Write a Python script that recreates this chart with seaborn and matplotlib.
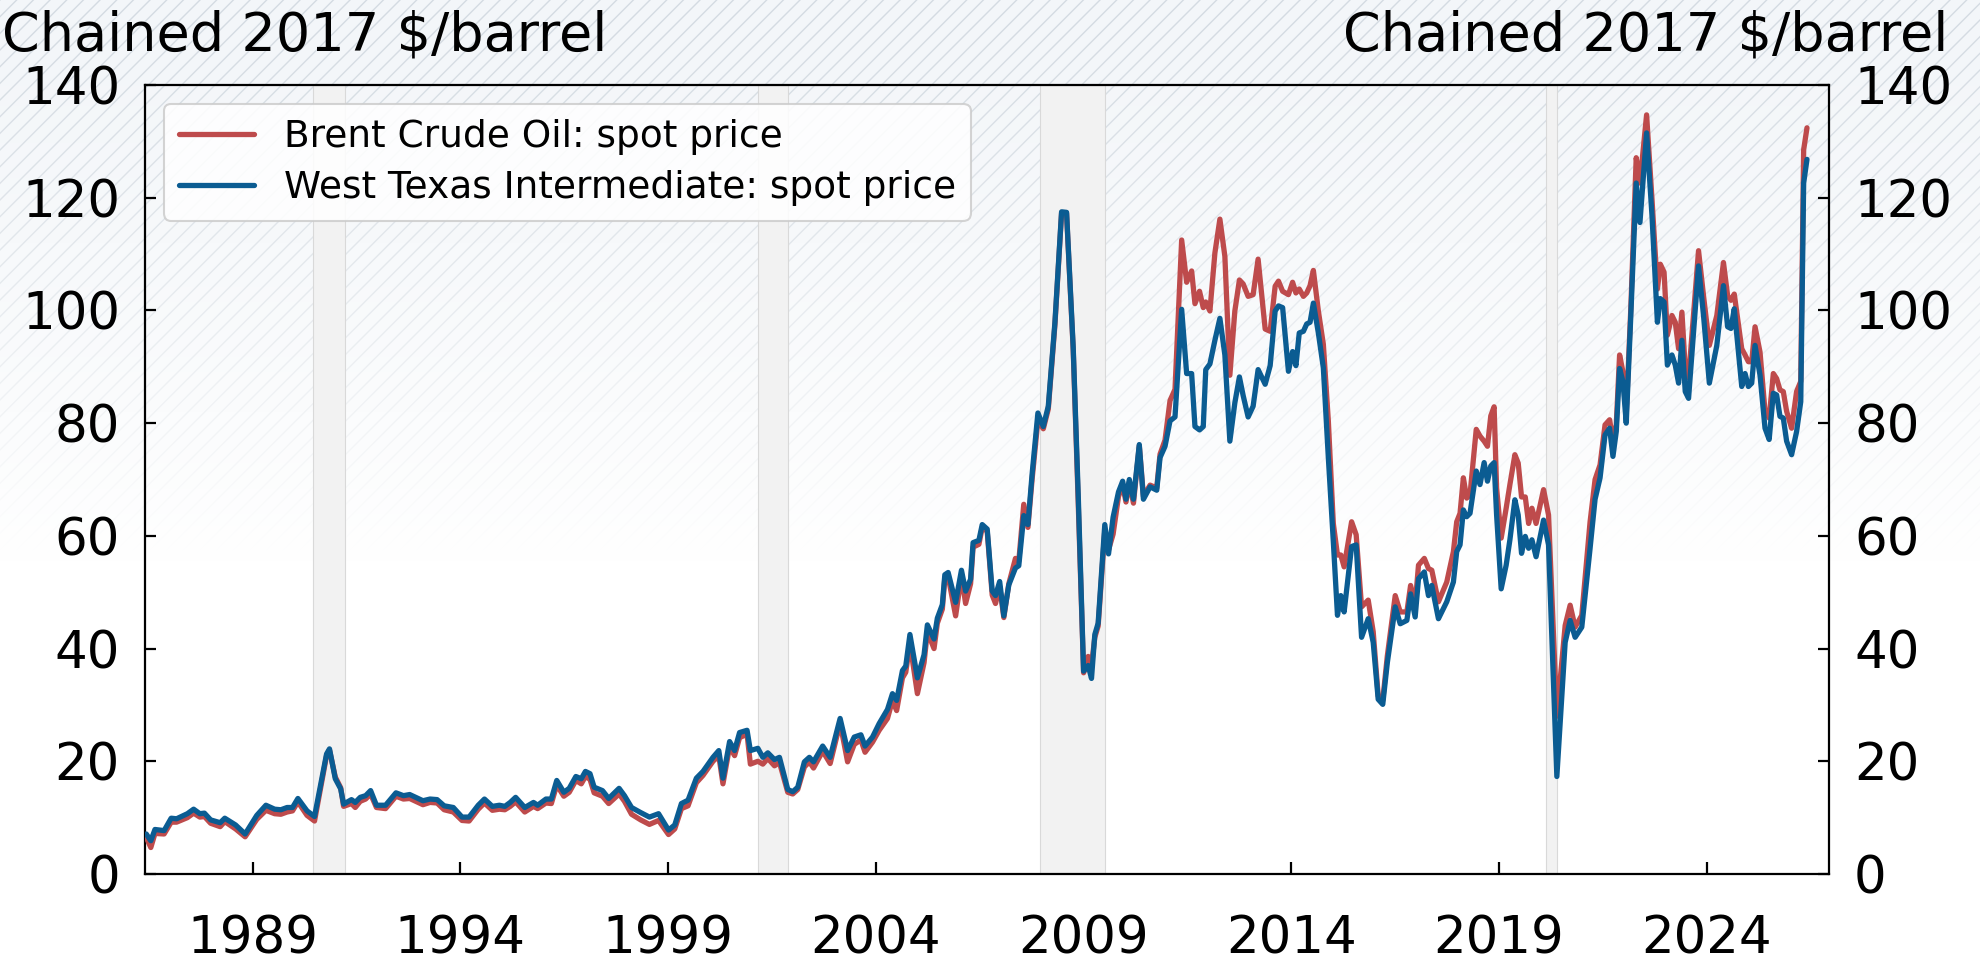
import numpy as np
import pandas as pd
import seaborn as sns
import matplotlib.pyplot as plt
from matplotlib.patches import Rectangle

# Monthly-ish observations (fractional year), chained 2017 $/barrel
years = [
    1986.44, 1986.55, 1986.65, 1986.87, 1987.04, 1987.17, 1987.43, 1987.58, 1987.73, 1987.84,
    1987.99, 1988.22, 1988.33, 1988.59, 1988.82, 1989.10, 1989.32, 1989.53, 1989.68, 1989.83,
    1989.96, 1990.09, 1990.31, 1990.49, 1990.78, 1990.85, 1990.99, 1991.12, 1991.19, 1991.38,
    1991.47, 1991.59, 1991.72, 1991.84, 1991.98, 1992.20, 1992.45, 1992.63, 1992.78, 1993.10,
    1993.27, 1993.44, 1993.61, 1993.83, 1994.04, 1994.21, 1994.43, 1994.58, 1994.77, 1994.94,
    1995.07, 1995.20, 1995.33, 1995.55, 1995.76, 1995.86, 1996.06, 1996.19, 1996.32, 1996.49,
    1996.62, 1996.78, 1996.91, 1997.01, 1997.12, 1997.22, 1997.42, 1997.57, 1997.82, 1997.95,
    1998.12, 1998.34, 1998.55, 1998.77, 1999.01, 1999.16, 1999.32, 1999.48, 1999.68, 1999.84,
    2000.08, 2000.22, 2000.32, 2000.48, 2000.60, 2000.72, 2000.90, 2000.98, 2001.16, 2001.28,
    2001.40, 2001.56, 2001.68, 2001.88, 2002.00, 2002.12, 2002.28, 2002.40, 2002.50, 2002.72,
    2002.90, 2003.14, 2003.32, 2003.48, 2003.64, 2003.74, 2003.92, 2004.08, 2004.28, 2004.40,
    2004.50, 2004.64, 2004.72, 2004.82, 2005.00, 2005.16, 2005.24, 2005.40, 2005.48, 2005.60,
    2005.66, 2005.74, 2005.92, 2006.06, 2006.16, 2006.28, 2006.34, 2006.48, 2006.56, 2006.68,
    2006.80, 2006.88, 2006.98, 2007.08, 2007.20, 2007.36, 2007.44, 2007.56, 2007.66, 2007.76,
    2007.90, 2008.03, 2008.15, 2008.31, 2008.47, 2008.59, 2008.75, 2008.87, 2009.00, 2009.11,
    2009.19, 2009.27, 2009.35, 2009.51, 2009.60, 2009.71, 2009.84, 2009.94, 2010.02, 2010.10,
    2010.20, 2010.34, 2010.44, 2010.60, 2010.76, 2010.84, 2010.96, 2011.08, 2011.20, 2011.36,
    2011.48, 2011.60, 2011.68, 2011.79, 2011.88, 2011.94, 2012.04, 2012.16, 2012.28, 2012.40,
    2012.52, 2012.64, 2012.75, 2012.84, 2012.96, 2013.08, 2013.20, 2013.37, 2013.49, 2013.61,
    2013.69, 2013.79, 2013.93, 2014.03, 2014.11, 2014.19, 2014.29, 2014.37, 2014.45, 2014.53,
    2014.65, 2014.77, 2014.89, 2015.01, 2015.11, 2015.19, 2015.27, 2015.45, 2015.56, 2015.69,
    2015.85, 2015.97, 2016.09, 2016.20, 2016.31, 2016.50, 2016.62, 2016.78, 2016.87, 2016.98,
    2017.06, 2017.20, 2017.30, 2017.38, 2017.54, 2017.74, 2017.90, 2017.98, 2018.06, 2018.14,
    2018.22, 2018.30, 2018.45, 2018.54, 2018.64, 2018.72, 2018.80, 2018.88, 2018.94, 2019.05,
    2019.17, 2019.26, 2019.38, 2019.46, 2019.54, 2019.63, 2019.71, 2019.79, 2019.89, 2020.07,
    2020.19, 2020.39, 2020.59, 2020.71, 2020.83, 2020.99, 2021.19, 2021.31, 2021.43, 2021.55,
    2021.66, 2021.74, 2021.82, 2021.90, 2021.98, 2022.06, 2022.17, 2022.30, 2022.39, 2022.55,
    2022.68, 2022.81, 2022.88, 2022.97, 2023.05, 2023.16, 2023.24, 2023.32, 2023.40, 2023.48,
    2023.56, 2023.80, 2023.92, 2024.06, 2024.24, 2024.40, 2024.50, 2024.58, 2024.66, 2024.84,
    2024.92, 2025.00, 2025.08, 2025.16, 2025.28, 2025.40, 2025.50, 2025.60, 2025.68, 2025.76,
    2025.84, 2025.92, 2026.04, 2026.16, 2026.26, 2026.33, 2026.41,
]

wti = [
    7.1, 5.9, 7.9, 7.7, 9.9, 9.8, 10.7, 11.5, 10.7, 10.8,
    9.6, 9.1, 9.9, 8.7, 7.1, 10.4, 12.2, 11.5, 11.4, 11.8,
    11.8, 13.4, 11.2, 10.2, 21.3, 22.2, 16.9, 15.1, 12.4, 13.2,
    12.7, 13.6, 13.9, 14.8, 12.2, 12.2, 14.4, 13.9, 14.1, 13.0,
    13.3, 13.2, 12.1, 11.8, 10.1, 10.1, 12.2, 13.3, 12.0, 12.2,
    12.0, 12.7, 13.6, 11.8, 12.7, 12.2, 13.3, 13.3, 16.6, 14.5,
    15.2, 17.3, 16.9, 18.2, 17.8, 15.4, 14.8, 13.4, 15.2, 13.9,
    11.8, 10.9, 10.1, 10.7, 7.8, 8.7, 12.5, 13.1, 17.0, 18.2,
    20.7, 21.9, 17.0, 23.5, 21.9, 25.1, 25.5, 21.9, 22.3, 20.7,
    21.5, 20.3, 20.7, 15.0, 14.6, 15.4, 19.9, 20.7, 19.9, 22.7,
    20.7, 27.6, 21.9, 24.3, 24.7, 22.7, 24.3, 26.7, 29.2, 32.0,
    30.8, 36.1, 36.9, 42.5, 34.8, 38.9, 44.2, 41.7, 45.4, 47.8,
    53.1, 53.5, 48.2, 53.9, 50.2, 52.3, 58.8, 59.2, 62.0, 61.2,
    50.2, 49.4, 51.9, 45.8, 51.3, 54.3, 54.7, 63.6, 62.0, 70.9,
    81.8, 79.4, 83.0, 97.9, 117.5, 117.4, 93.4, 67.4, 36.0, 37.0,
    34.7, 42.5, 44.5, 62.0, 56.8, 63.3, 67.8, 69.7, 66.5, 70.0,
    66.5, 76.2, 66.5, 68.7, 68.1, 73.9, 75.9, 80.4, 81.1, 100.2,
    88.8, 88.8, 79.4, 78.8, 79.4, 89.5, 90.5, 94.7, 98.6, 92.1,
    76.8, 83.6, 88.2, 84.9, 81.1, 83.0, 89.5, 86.9, 90.2, 99.9,
    100.8, 100.5, 89.2, 92.7, 90.2, 96.0, 96.3, 97.6, 97.9, 101.3,
    96.0, 89.8, 73.9, 59.0, 45.9, 49.4, 46.5, 58.1, 58.4, 42.0,
    45.3, 41.1, 31.0, 30.1, 37.5, 47.4, 44.4, 45.0, 49.7, 45.6,
    52.4, 53.6, 49.4, 51.2, 45.3, 48.3, 51.8, 57.2, 58.4, 64.6,
    63.4, 64.0, 71.5, 69.1, 73.0, 69.7, 72.4, 73.0, 63.7, 50.6,
    54.8, 59.3, 66.4, 63.7, 56.9, 59.9, 57.8, 59.3, 56.3, 62.8,
    58.4, 17.3, 41.1, 45.0, 42.0, 43.8, 57.8, 66.5, 70.3, 77.9,
    79.1, 74.1, 78.5, 89.7, 87.4, 80.0, 99.1, 122.6, 115.6, 131.5,
    116.8, 97.9, 102.1, 101.5, 90.3, 92.1, 90.3, 87.1, 94.7, 85.6,
    84.4, 107.9, 99.1, 87.1, 93.8, 104.4, 97.1, 96.8, 100.3, 86.5,
    88.8, 86.5, 87.1, 93.8, 88.5, 79.1, 77.1, 85.3, 85.0, 81.2,
    80.9, 76.8, 74.4, 78.5, 83.8, 122.6, 126.8,
]

brent = [
    6.5, 4.7, 7.2, 7.1, 9.2, 9.2, 10.0, 10.8, 10.1, 10.2,
    9.0, 8.4, 9.3, 8.0, 6.6, 9.7, 11.3, 10.7, 10.6, 11.0,
    11.2, 12.8, 10.4, 9.4, 21.0, 22.0, 17.2, 15.3, 12.0, 12.5,
    11.8, 12.9, 13.3, 14.2, 11.8, 11.6, 13.8, 13.3, 13.4, 12.3,
    12.7, 12.6, 11.4, 11.0, 9.5, 9.4, 11.5, 12.6, 11.3, 11.5,
    11.4, 12.0, 12.8, 11.0, 12.0, 11.6, 12.6, 12.5, 15.8, 13.8,
    14.5, 16.6, 16.0, 17.3, 16.8, 14.4, 13.8, 12.5, 14.2, 12.9,
    10.6, 9.6, 8.8, 9.5, 7.0, 8.0, 11.6, 12.1, 16.2, 17.5,
    20.0, 21.0, 16.0, 22.6, 21.0, 24.2, 24.8, 19.5, 20.0, 19.5,
    20.5, 19.2, 19.8, 14.5, 14.2, 15.0, 19.0, 19.9, 18.8, 21.8,
    19.6, 26.8, 19.9, 23.0, 23.8, 21.6, 23.4, 25.5, 27.6, 30.8,
    29.0, 34.8, 35.8, 41.0, 32.0, 37.5, 43.0, 40.0, 44.5, 47.0,
    52.5, 52.8, 45.8, 53.0, 48.0, 51.5, 58.0, 58.5, 61.5, 60.8,
    49.5, 48.0, 51.0, 45.5, 51.5, 56.0, 55.5, 65.6, 61.5, 70.0,
    80.5, 79.0, 82.5, 97.5, 117.3, 117.2, 93.0, 66.0, 35.7, 38.6,
    37.0, 42.0, 44.0, 61.0, 57.5, 60.3, 67.0, 69.0, 66.0, 69.5,
    65.8, 76.0, 67.0, 69.0, 68.5, 74.5, 77.0, 84.0, 86.0, 112.5,
    105.0, 107.0, 101.2, 103.4, 100.5, 101.5, 99.9, 110.2, 116.2, 109.6,
    88.5, 99.9, 105.4, 104.7, 102.5, 102.8, 109.1, 96.7, 96.3, 104.3,
    105.2, 103.4, 102.8, 105.0, 103.1, 103.8, 102.5, 103.1, 104.4, 107.1,
    99.9, 94.0, 80.4, 62.2, 56.6, 56.6, 54.5, 62.5, 60.2, 47.4,
    48.6, 43.0, 31.6, 30.8, 38.7, 49.4, 46.5, 46.5, 51.2, 47.8,
    54.8, 56.0, 54.2, 53.9, 48.3, 51.8, 57.2, 62.5, 64.0, 70.3,
    66.7, 67.3, 78.9, 77.7, 76.8, 75.9, 81.3, 82.9, 68.5, 59.6,
    64.9, 69.1, 74.4, 72.9, 66.9, 66.9, 62.2, 64.9, 62.2, 68.2,
    63.7, 28.0, 44.1, 47.7, 43.8, 45.9, 62.5, 70.0, 72.6, 79.7,
    80.6, 76.8, 79.7, 92.1, 89.1, 81.5, 100.3, 127.1, 122.6, 134.7,
    119.7, 103.8, 108.2, 106.8, 95.6, 99.1, 97.9, 93.2, 99.7, 89.7,
    88.0, 110.6, 102.6, 93.8, 99.1, 108.5, 102.6, 101.8, 102.9, 93.2,
    92.1, 90.9, 90.9, 97.1, 92.6, 82.1, 80.9, 88.8, 87.9, 85.9,
    85.6, 82.1, 79.1, 85.6, 87.4, 128.5, 132.4,
]

# recession periods (start, end)
rec_start = [1990.46, 2001.16, 2007.94, 2020.12]
rec_end = [1991.22, 2001.89, 2009.52, 2020.40]

year_ticks = [1989, 1994, 1999, 2004, 2009, 2014, 2019, 2024]
value_ticks = [0, 20, 40, 60, 80, 100, 120, 140]

df = pd.DataFrame({'year': years, 'Brent': brent, 'WTI': wti})

sns.set_style('white')
plt.rcParams['font.family'] = ['DejaVu Sans']
plt.rcParams['hatch.linewidth'] = 1.0
plt.rcParams['text.color'] = 'black'

fig = plt.figure(figsize=(19.8, 9.65), dpi=100)
fig.patch.set_facecolor('white')

# hatched background that fades to white towards the bottom
bg = fig.add_axes([0, 0, 1, 1], zorder=-10)
bg.axis('off')
bg.add_patch(Rectangle((0, 0), 1, 1, transform=bg.transAxes, facecolor='#f3f6f9',
                       edgecolor='#d4dbe2', hatch='//', lw=0))
alpha = np.clip(np.linspace(0, 1, 400) / 0.58, 0, 1) ** 1.3
fade = np.ones((400, 1, 4))
fade[:, 0, 3] = alpha
bg.imshow(fade, extent=[0, 1, 0, 1], aspect='auto', origin='upper', zorder=2)
bg.set_xlim(0, 1)
bg.set_ylim(0, 1)

ax = fig.add_axes([145 / 1980, 1 - 874 / 965, 1684 / 1980, 789 / 965])
ax.set_facecolor('none')

for s, e in zip(rec_start, rec_end):
    ax.axvspan(s, e, facecolor='#f2f2f2', edgecolor='#d9d9d9', lw=0.8, zorder=1)

sns.lineplot(data=df, x='year', y='Brent', ax=ax, color='#be4b4c', lw=3.8,
             label='Brent Crude Oil: spot price', zorder=3)
sns.lineplot(data=df, x='year', y='WTI', ax=ax, color='#0b5c92', lw=3.8,
             label='West Texas Intermediate: spot price', zorder=4)

ax.set_xlim(1986.41, 2026.94)
ax.set_ylim(0, 140)
ax.set_xticks(year_ticks)
ax.set_xticklabels([str(y) for y in year_ticks])
ax.set_yticks(value_ticks)
ax.set_xlabel('')
ax.set_ylabel('')

for sp in ax.spines.values():
    sp.set_visible(True)
    sp.set_color('black')
    sp.set_linewidth(1.6)

ax.tick_params(axis='x', direction='in', length=9, width=1.6, labelsize=37, pad=29,
               bottom=True, top=False, colors='black')
ax.tick_params(axis='y', direction='in', length=8, width=1.6, labelsize=37, pad=18,
               left=True, right=True, labelleft=True, labelright=True, colors='black')

leg = ax.legend(loc='upper left', fontsize=27, frameon=True, fancybox=True,
                borderaxespad=0.5, handlelength=2.0, framealpha=0.85,
                labelspacing=0.4)
leg.get_frame().set_edgecolor('#cccccc')
leg.get_frame().set_linewidth(1.5)
for line in leg.get_lines():
    line.set_linewidth(3.8)
for t in leg.get_texts():
    t.set_color('black')

fig.text(0.001, 0.99, 'Chained 2017 $/barrel', ha='left', va='top', fontsize=39)
fig.text(0.984, 0.99, 'Chained 2017 $/barrel', ha='right', va='top', fontsize=39)

fig.savefig('out.png', dpi=100)
